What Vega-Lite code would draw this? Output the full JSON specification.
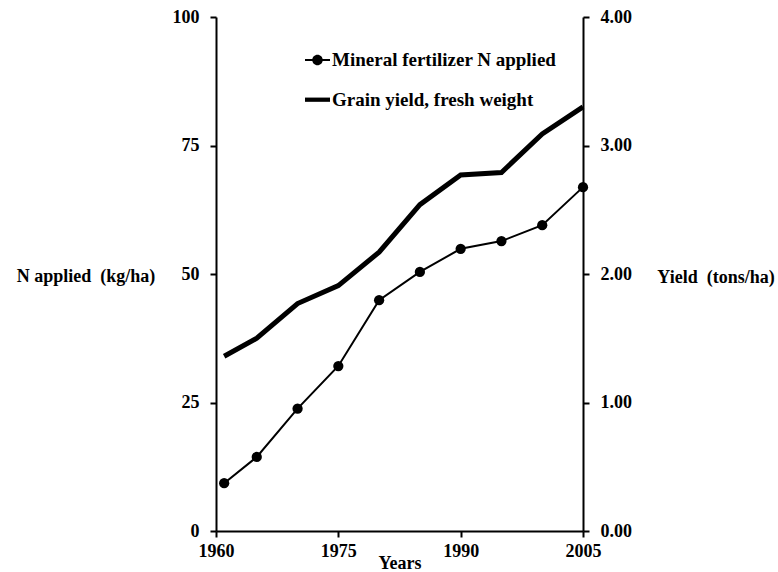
{
  "$schema": "https://vega.github.io/schema/vega-lite/v6.json",
  "width": 367,
  "height": 514,
  "autosize": {"type": "none"},
  "padding": {"left": 216, "top": 17, "right": 195, "bottom": 41},
  "background": "white",
  "config": {
    "view": {"stroke": null},
    "font": "Liberation Serif",
    "axis": {
      "grid": false,
      "ticks": true,
      "domainColor": "black",
      "domainWidth": 2,
      "tickColor": "black",
      "tickWidth": 2,
      "tickSize": 6,
      "labelColor": "black",
      "labelFont": "Liberation Serif",
      "labelFontWeight": "bold",
      "labelFontSize": 18,
      "titleColor": "black",
      "titleFont": "Liberation Serif",
      "titleFontWeight": "bold",
      "titleFontSize": 18
    }
  },
  "data": {
    "values": [
      {"year": 1961, "series": "Mineral fertilizer N applied", "value": 9.3},
      {"year": 1965, "series": "Mineral fertilizer N applied", "value": 14.4},
      {"year": 1970, "series": "Mineral fertilizer N applied", "value": 23.8},
      {"year": 1975, "series": "Mineral fertilizer N applied", "value": 32.1},
      {"year": 1980, "series": "Mineral fertilizer N applied", "value": 44.9},
      {"year": 1985, "series": "Mineral fertilizer N applied", "value": 50.4},
      {"year": 1990, "series": "Mineral fertilizer N applied", "value": 54.9},
      {"year": 1995, "series": "Mineral fertilizer N applied", "value": 56.4},
      {"year": 2000, "series": "Mineral fertilizer N applied", "value": 59.5},
      {"year": 2005, "series": "Mineral fertilizer N applied", "value": 66.9},
      {"year": 1961, "series": "Grain yield, fresh weight", "value": 1.36},
      {"year": 1965, "series": "Grain yield, fresh weight", "value": 1.5},
      {"year": 1970, "series": "Grain yield, fresh weight", "value": 1.77},
      {"year": 1975, "series": "Grain yield, fresh weight", "value": 1.91},
      {"year": 1980, "series": "Grain yield, fresh weight", "value": 2.17},
      {"year": 1985, "series": "Grain yield, fresh weight", "value": 2.54},
      {"year": 1990, "series": "Grain yield, fresh weight", "value": 2.77},
      {"year": 1995, "series": "Grain yield, fresh weight", "value": 2.79},
      {"year": 2000, "series": "Grain yield, fresh weight", "value": 3.09},
      {"year": 2005, "series": "Grain yield, fresh weight", "value": 3.3}
    ]
  },
  "encoding": {
    "x": {
      "field": "year",
      "type": "quantitative",
      "scale": {"domain": [1960, 2005], "nice": false, "zero": false},
      "axis": {
        "title": "Years",
        "values": [1960, 1975, 1990, 2005],
        "format": "d",
        "labelPadding": 5,
        "labelFlush": false,
        "labelOverlap": false,
        "titleX": 183.5,
        "titleY": 37,
        "titleAlign": "center",
        "titleBaseline": "alphabetic"
      }
    }
  },
  "layer": [
    {
      "transform": [{"filter": "datum.series === 'Mineral fertilizer N applied'"}],
      "encoding": {
        "y": {
          "field": "value",
          "type": "quantitative",
          "scale": {"domain": [0, 100], "nice": false},
          "axis": {
            "orient": "left",
            "title": "N applied\u00a0 (kg/ha)",
            "values": [0, 25, 50, 75, 100],
            "labelPadding": 11,
            "labelFlush": false,
            "labelOverlap": false,
            "titleAngle": 0,
            "titleX": -130.5,
            "titleY": 264.7,
            "titleAlign": "center",
            "titleBaseline": "alphabetic"
          }
        }
      },
      "layer": [
        {"mark": {"type": "line", "color": "black", "strokeWidth": 2}},
        {"mark": {"type": "circle", "color": "black", "size": 105, "opacity": 1}},
        {
          "mark": {"type": "point", "filled": true, "color": "black", "opacity": 0},
          "encoding": {
            "shape": {
              "field": "series",
              "type": "nominal",
              "scale": {
                "domain": ["Mineral fertilizer N applied", "Grain yield, fresh weight"],
                "range": [
                  "M-1,-0.08L1,-0.08L1,0.08L-1,0.08Z M0.42,0 A0.42,0.42 0 1,1 -0.42,0 A0.42,0.42 0 1,1 0.42,0 Z",
                  "M-1,-0.17L1,-0.17L1,0.17L-1,0.17Z"
                ]
              },
              "legend": {
                "title": null,
                "orient": "none",
                "legendX": 89,
                "legendY": 30.5,
                "symbolSize": 625,
                "symbolStrokeWidth": 0,
                "symbolFillColor": "black",
                "symbolOpacity": 1,
                "labelFont": "Liberation Serif",
                "labelFontWeight": "bold",
                "labelFontSize": 19,
                "labelColor": "black",
                "labelOffset": 2,
                "labelLimit": 400,
                "rowPadding": 16.7,
                "padding": 0,
                "encode": {"symbols": {"update": {"opacity": {"value": 1}, "fill": {"value": "black"}}}}
              }
            }
          }
        }
      ]
    },
    {
      "transform": [{"filter": "datum.series === 'Grain yield, fresh weight'"}],
      "mark": {"type": "line", "color": "black", "strokeWidth": 5},
      "encoding": {
        "y": {
          "field": "value",
          "type": "quantitative",
          "scale": {"domain": [0, 4], "nice": false},
          "axis": {
            "orient": "right",
            "title": "Yield\u00a0 (tons/ha)",
            "values": [0, 1, 2, 3, 4],
            "format": ".2f",
            "labelPadding": 11,
            "labelFlush": false,
            "labelOverlap": false,
            "titleAngle": 0,
            "titleX": 132.5,
            "titleY": 265,
            "titleAlign": "center",
            "titleBaseline": "alphabetic"
          }
        }
      }
    }
  ],
  "resolve": {"scale": {"y": "independent"}, "axis": {"y": "independent"}}
}
